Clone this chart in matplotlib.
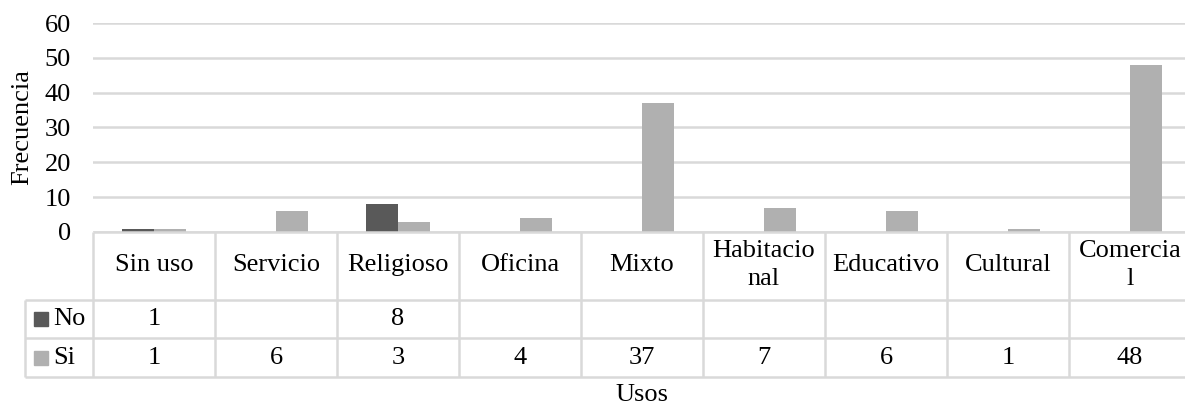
import matplotlib
matplotlib.use('Agg')
import matplotlib.pyplot as plt
import numpy as np

plt.rcParams['font.family'] = ['Liberation Serif', 'DejaVu Serif']
plt.rcParams['font.size'] = 19

# usos del inmueble y frecuencias
usos = ['Sin uso', 'Servicio', 'Religioso', 'Oficina', 'Mixto',
        'Habitacio\nnal', 'Educativo', 'Cultural', 'Comercia\nl']
no_vals = [1, None, 8, None, None, None, None, None, None]
si_vals = [1, 6, 3, 4, 37, 7, 6, 1, 48]
series = ['No', 'Si']
colores = ['#595959', '#b0b0b0']
yticks = [0, 10, 20, 30, 40, 50, 60]

W, H = 1185, 409
grid_c = '#d9d9d9'

no_arr = np.array([np.nan if v is None else v for v in no_vals], dtype=float)
si_arr = np.array(si_vals, dtype=float)
x = np.arange(len(usos))

fig = plt.figure(figsize=(W / 100, H / 100), dpi=100)

# area del grafico (se sale un poco por la derecha)
cat_w = 122
left, top, bottom = 93, 23, 232
ax = fig.add_axes([left / W, 1 - bottom / H, cat_w * len(usos) / W, (bottom - top) / H])
bw = 0.26
ax.bar(x - bw / 2, np.nan_to_num(no_arr), width=bw, color=colores[0], zorder=3)
ax.bar(x + bw / 2, si_arr, width=bw, color=colores[1], zorder=3)
ax.set_xlim(-0.5, len(usos) - 0.5)
ax.set_ylim(0, 60)
ax.set_yticks(yticks)
ax.yaxis.grid(True, color=grid_c, lw=1.8, zorder=0)
ax.set_axisbelow(True)
for s in ax.spines.values():
    s.set_visible(False)
ax.tick_params(axis='y', length=0, pad=16)
ax.tick_params(axis='x', bottom=False, labelbottom=False)

fig.text(22 / W, 1 - 127.5 / H, 'Frecuencia', rotation=90, ha='center', va='center')
fig.text((left + cat_w * len(usos) / 2) / W, 1 - 395 / H, 'Usos', ha='center', va='center')

# tabla de datos debajo
t_top, t_bot, t_left = 232, 377, 25
tx = fig.add_axes([t_left / W, 1 - t_bot / H, (left + cat_w * len(usos) - t_left) / W, (t_bot - t_top) / H])
x0 = -0.5 - (left - t_left) / cat_w
tx.set_xlim(x0, len(usos) - 0.5)
tx.set_ylim(t_bot - t_top, 0)
tx.axis('off')

rows = [0, 68, 106, 145]
lk = dict(color=grid_c, lw=1.8, clip_on=False)
tx.hlines(rows[0], -0.5, len(usos) - 0.5, **lk)
tx.hlines(rows[1:], x0, len(usos) - 0.5, **lk)
tx.vlines(np.arange(len(usos) + 1) - 0.5, rows[0], rows[-1], **lk)
tx.vlines(x0, rows[1], rows[-1], **lk)

for i, u in enumerate(usos):
    tx.text(i, (rows[0] + rows[1]) / 2 - 1, u, ha='center', va='center', linespacing=1.35)

for r, (nombre, vals, c) in enumerate(zip(series, [no_arr, si_arr], colores)):
    yc = (rows[r + 1] + rows[r + 2]) / 2
    tx.plot(x0 + 16 / cat_w, yc, marker='s', ms=10, color=c, clip_on=False)
    tx.text(x0 + 28 / cat_w, yc, nombre, ha='left', va='center')
    for i, v in enumerate(vals):
        if not np.isnan(v):
            tx.text(i, yc, '%d' % v, ha='center', va='center')

fig.savefig('out.png', dpi=100)
